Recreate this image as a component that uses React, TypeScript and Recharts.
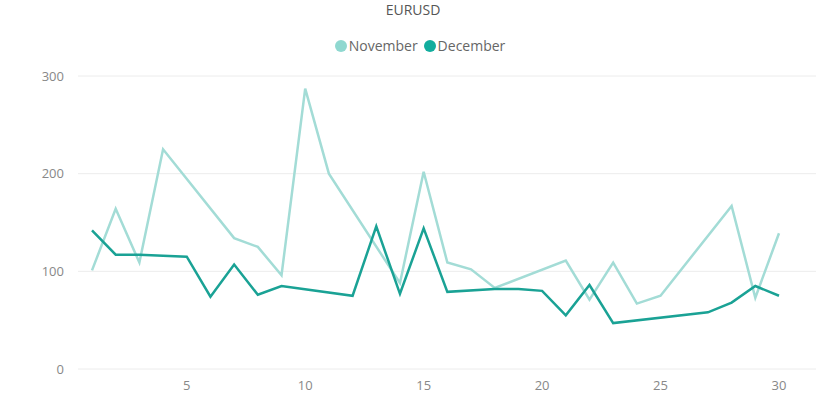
import React from "react";
import { LineChart, Line, XAxis, YAxis, CartesianGrid, Legend } from "recharts";

const days = [1,2,3,4,5,6,7,8,9,10,11,12,13,14,15,16,17,18,19,20,21,22,23,24,25,26,27,28,29,30];
const november: (number | null)[] = [101,164,109,225,null,null,134,125,96,287,200,null,null,88,202,109,102,83,null,null,111,71,109,67,75,null,null,167,73,139];
const december: (number | null)[] = [142,117,117,116,115,74,107,76,85,null,null,75,146,77,144,79,null,82,82,80,55,86,47,null,null,null,58,68,85,75];
const yTicks = [0,100,200,300];
const xTicks = [5,10,15,20,25,30];

const NOV_COLOR = "#a3dcd6";
const DEC_COLOR = "#1aa295";
const FONT = "'Open Sans', 'Noto Sans', sans-serif";

const data = days.map((d, i) => ({ day: d, November: november[i], December: december[i] }));

const LegendContent = () => (
  <div style={{ display: "flex", justifyContent: "center", alignItems: "center", fontFamily: FONT, fontSize: 14, color: "#666", height: 19 }}>
    <span style={{ display: "inline-block", width: 12, height: 12, borderRadius: 6, background: "#8fd8d0", marginRight: 2 }} />
    <span style={{ marginRight: 6 }}>November</span>
    <span style={{ display: "inline-block", width: 12, height: 12, borderRadius: 6, background: "#12ad9e", marginRight: 2 }} />
    <span>December</span>
  </div>
);

export default function App() {
  return (
    <div style={{ position: "absolute", left: 0, top: 0, width: 840, height: 410, background: "#fff" }}>
      <div style={{ position: "absolute", left: 0, top: 0, width: 826, textAlign: "center", fontFamily: FONT, fontSize: 14, color: "#555", lineHeight: "20px" }}>
        EURUSD
      </div>
      <LineChart width={840} height={410} data={data} margin={{ top: 57, right: 24, bottom: 0, left: 0 }}>
        <CartesianGrid horizontal={true} vertical={false} stroke="#ececec" strokeWidth={1} />
        <XAxis
          dataKey="day"
          type="number"
          domain={[1, 30]}
          ticks={xTicks}
          padding={{ left: 14, right: 37 }}
          axisLine={false}
          tickLine={false}
          height={41}
          tick={{ fill: "#888", fontSize: 13, fontFamily: FONT }}
          tickMargin={6}
        />
        <YAxis
          domain={[0, 300]}
          ticks={yTicks}
          width={78}
          axisLine={false}
          tickLine={false}
          tick={{ fill: "#888", fontSize: 13, fontFamily: FONT, dx: -6 }}
        />
        <Legend verticalAlign="top" content={<LegendContent />} wrapperStyle={{ top: 36, left: 0, width: 840 }} />
        <Line type="linear" dataKey="November" stroke={NOV_COLOR} strokeWidth={2.5} dot={false} connectNulls isAnimationActive={false} />
        <Line type="linear" dataKey="December" stroke={DEC_COLOR} strokeWidth={2.5} dot={false} connectNulls isAnimationActive={false} />
      </LineChart>
    </div>
  );
}
